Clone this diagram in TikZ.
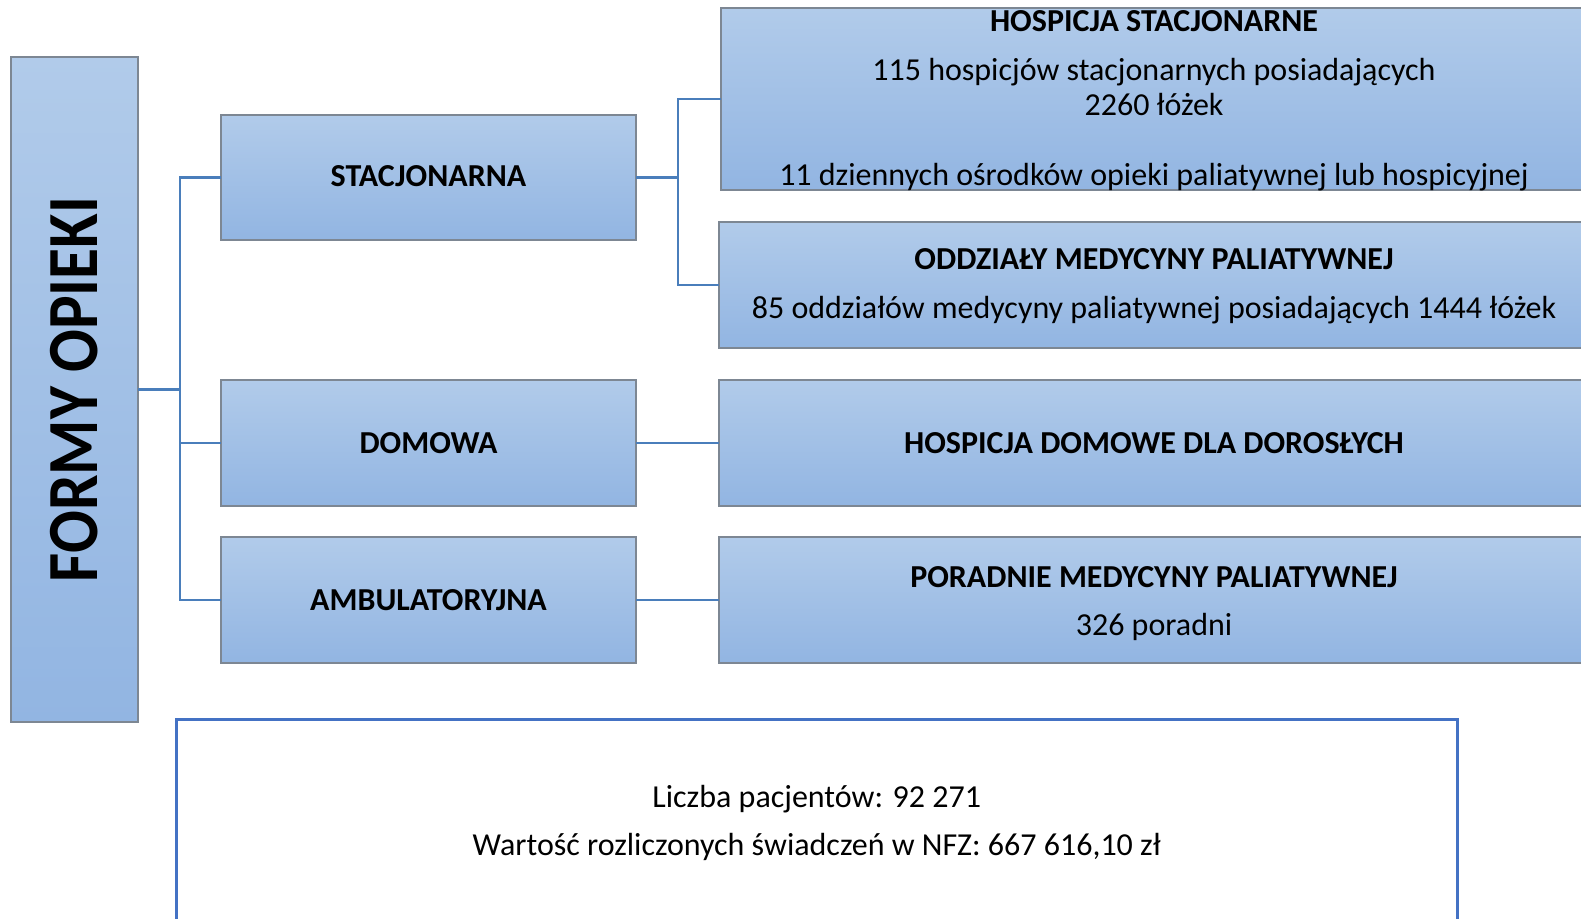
\documentclass[tikz,border=0pt]{standalone}
\usepackage{fontspec}
\setmainfont{Carlito}
\definecolor{gtop}{HTML}{B1CBEA}
\definecolor{gbot}{HTML}{92B5E2}
\definecolor{bord}{HTML}{7D8793}
\definecolor{conn}{HTML}{4A7EBB}
\definecolor{frame}{HTML}{4472C4}
\tikzset{
  box/.style={draw=bord, line width=1.5pt, top color=gtop, bottom color=gbot, inner sep=0pt, outer sep=0pt},
  cline/.style={draw=conn, line width=2.5pt},
  txt/.style={anchor=base, inner sep=0pt, font=\fontsize{32}{38}\selectfont},
  btxt/.style={txt, font=\fontsize{32}{38}\selectfont\bfseries},
}
\begin{document}
\begin{tikzpicture}[x=1pt, y=-1pt]
\useasboundingbox (0,0) rectangle (1581,918);
% boxes
\node[box, minimum width=127pt, minimum height=665pt] (formy) at (74.5,389.5) {};
\node[box, minimum width=415pt, minimum height=125pt] (stac) at (428.5,177.5) {};
\node[box, minimum width=415pt, minimum height=126pt] (dom) at (428.5,443) {};
\node[box, minimum width=415pt, minimum height=126pt] (amb) at (428.5,600) {};
\node[box, minimum width=866pt, minimum height=182pt] (hosp) at (1154,99) {};
\node[box, minimum width=870pt, minimum height=126pt] (oddz) at (1154,285) {};
\node[box, minimum width=870pt, minimum height=126pt] (hdom) at (1154,443) {};
\node[box, minimum width=870pt, minimum height=126pt] (por) at (1154,600) {};
\node[draw=frame, line width=3pt, inner sep=0pt, outer sep=0pt, minimum width=1280.5pt, minimum height=230pt] (info) at (816.75,834) {};
% connectors
\coordinate (bus) at (180,0);
\coordinate (bus2) at (678,0);
\draw[cline] (formy.east) -- (formy.east -| bus);
\draw[cline] (stac.west) -- (stac.west -| bus) |- (amb.west);
\draw[cline] (dom.west) -- (dom.west -| bus);
\draw[cline] (stac.east) -- (stac.east -| bus2);
\draw[cline] (hosp.west) -- (hosp.west -| bus2) |- (oddz.west);
\draw[cline] (dom.east) -- (hdom.west);
\draw[cline] (amb.east) -- (por.west);
% texts
\node[rotate=90, inner sep=0pt, font=\fontsize{72}{80}\selectfont\bfseries] (tformy) at (74.5,389.5) {\scalebox{0.88}[1]{FORMY OPIEKI}};
\node[btxt] (tstac) at (428.5,186) {STACJONARNA};
\node[btxt] (tdom) at (428.5,453.5) {DOMOWA};
\node[btxt] (tamb) at (428.5,610.5) {AMBULATORYJNA};
\node[btxt] (thosp) at (1154,31.5) {HOSPICJA STACJONARNE};
\node[txt] (thosp1) at (1154,80) {115 hospicjów stacjonarnych posiadających};
\node[txt] (thosp2) at (1154,115.5) {2260 łóżek};
\node[txt] (thosp3) at (1154,185) {11 dziennych ośrodków opieki paliatywnej lub hospicyjnej};
\node[btxt] (toddz) at (1154,269.5) {ODDZIAŁY MEDYCYNY PALIATYWNEJ};
\node[txt] (toddz1) at (1154,318.5) {85 oddziałów medycyny paliatywnej posiadających 1444 łóżek};
\node[btxt] (thdom) at (1154,453.5) {HOSPICJA DOMOWE DLA DOROSŁYCH};
\node[btxt] (tpor) at (1154,587.5) {PORADNIE MEDYCYNY PALIATYWNEJ};
\node[txt] (tpor1) at (1154,635.5) {326 poradni};
\node[txt] (tinfo1) at (816.75,807.5) {Liczba pacjentów: 92 271};
\node[txt] (tinfo2) at (816.75,855) {Wartość rozliczonych świadczeń w NFZ: 667 616,10 zł};
\end{tikzpicture}
\end{document}
